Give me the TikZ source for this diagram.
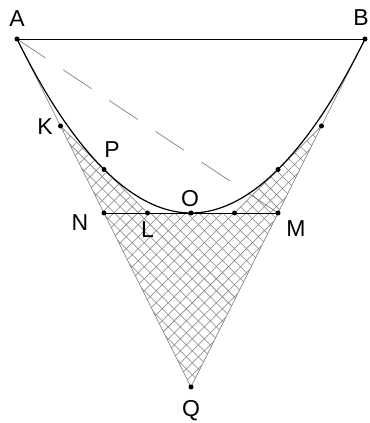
\documentclass[tikz,border=0pt]{standalone}
\usepackage{fontspec}
\setmainfont{Liberation Sans}
\usetikzlibrary{patterns.meta}
\definecolor{rule}{gray}{0.45}
\definecolor{hatch}{gray}{0.5}

\tikzset{
  lbl/.style={font=\fontsize{23}{27}\selectfont,inner sep=0pt},
  tangent/.style={draw=rule,line width=0.6pt},
}

\begin{document}
\begin{tikzpicture}[x=174pt,y=174pt]
\useasboundingbox (-1.0977,-1.2069) rectangle (1.0230,1.2241);
% points of the figure
\coordinate (A) at (-1,1);
\coordinate (B) at (1,1);
\coordinate (O) at (0,0);
\coordinate (Q) at (0,-1);
\coordinate (K) at (-0.75,0.5);
\coordinate (P) at (-0.5,0.25);
\coordinate (N) at (-0.5,0);
\coordinate (L) at (-0.25,0);
\coordinate (M) at (0.5,0);
\coordinate (L2) at (0.25,0);
\coordinate (P2) at (0.5,0.25);
\coordinate (K2) at (0.75,0.5);
% hatched region
\fill[pattern={Lines[angle=45,distance=8.5pt,line width=0.55pt]},pattern color=hatch]
  (K) -- (L) -- (L2) -- (K2) -- (Q) -- cycle;
\fill[pattern={Lines[angle=-45,distance=8.5pt,line width=0.55pt]},pattern color=hatch]
  (K) -- (L) -- (L2) -- (K2) -- (Q) -- cycle;
% tangents and chords
\draw[tangent] (A) -- (Q) -- (B);
\draw[tangent] (K) -- (L);
\draw[tangent] (K2) -- (L2);
\draw[line width=0.8pt] (A) -- (B);
\draw[line width=0.8pt] (N) -- (M);
\draw[draw=rule,line width=0.6pt,dash pattern=on 34pt off 21.5pt] (A) -- (M);
\draw[line width=1.2pt] (A) parabola bend (O) (B);
\foreach \p in {A,B,K,P,N,L,O,M,Q,L2,P2,K2}
  \fill (\p) circle (2.5pt);
% labels
\node[lbl] (lA) at ([shift={(0pt,20pt)}]A) {A};
\node[lbl] (lB) at ([shift={(-4pt,21pt)}]B) {B};
\node[lbl] (lK) at ([shift={(-15.5pt,-1pt)}]K) {K};
\node[lbl] (lP) at ([shift={(8pt,20pt)}]P) {P};
\node[lbl] (lN) at ([shift={(-24pt,-10pt)}]N) {N};
\node[lbl] (lL) at ([shift={(0pt,-17pt)}]L) {L};
\node[lbl] (lO) at ([shift={(-1pt,14pt)}]O) {O};
\node[lbl] (lM) at ([shift={(18pt,-16pt)}]M) {M};
\node[lbl] (lQ) at ([shift={(0pt,-24pt)}]Q) {Q};
\end{tikzpicture}
\end{document}
